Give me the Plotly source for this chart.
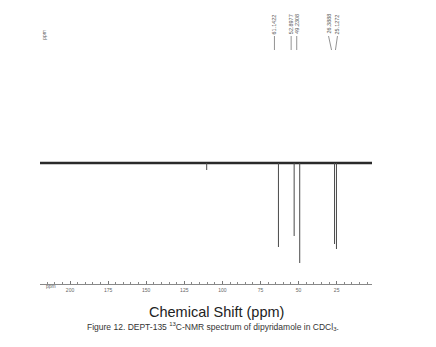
import plotly.graph_objects as go

# ---- data ----
peak_ppm = [63.2, 52.8977, 49.2308, 26.3888, 25.1272]
peak_intensity = [-84, -73, -100, -81, -86]
peak_labels = ["61.1422", "52.8977", "49.2308", "26.3888", "25.1272"]
small_ppm = [110.3]
small_intensity = [-7]
baseline_ppm = [220.0, 0.5]
tick_values = [200, 175, 150, 125, 100, 75, 50, 25]
tick_text = ["200", "175", "150", "125", "100", "75", "50", "25"]

PX_PER_PPM = 1.5236
# horizontal shift (px) of each label, and of the lower end of its leader line
label_shift = [-4, -3, -3, -6, 1]
leader_shift = [-4, -3, -3, -3, -1]

fig = go.Figure()

# baseline (noise band)
fig.add_trace(go.Scatter(x=baseline_ppm, y=[0, 0], mode="lines",
                         line=dict(color="#2a2a2a", width=2.6),
                         hoverinfo="skip", showlegend=False))

# peaks
px, py = [], []
for p, v in zip(peak_ppm + small_ppm, peak_intensity + small_intensity):
    px += [p, p, None]
    py += [0, v, None]
fig.add_trace(go.Scatter(x=px, y=py, mode="lines",
                         line=dict(color="#4a4a4a", width=1),
                         hoverinfo="skip", showlegend=False))

annotations = []
shapes = []
for p, lab, s, ls in zip(peak_ppm, peak_labels, label_shift, leader_shift):
    annotations.append(dict(x=p, y=139, xref="x", yref="y", text=lab,
                            textangle=-90, showarrow=False, xshift=s,
                            font=dict(size=5.5, color="#555",
                                      family="Liberation Sans")))
    top_x = p - s / PX_PER_PPM
    bot_x = p - ls / PX_PER_PPM
    shapes.append(dict(type="line", xref="x", yref="y",
                       x0=top_x, x1=bot_x, y0=127, y1=113,
                       line=dict(color="#777", width=0.8)))

# the "ppm" marks
annotations.append(dict(x=-0.003, y=0.902, xref="paper", yref="paper",
                        text="ppm", textangle=-90, showarrow=False,
                        font=dict(size=5, color="#666", family="Liberation Sans")))
annotations.append(dict(x=0.012, y=-0.025, xref="paper", yref="paper",
                        text="ppm", showarrow=False,
                        font=dict(size=5, color="#666", family="Liberation Sans")))

annotations.append(dict(x=0.533, y=-0.0986, xref="paper", yref="paper",
                        text="Chemical Shift (ppm)", showarrow=False,
                        yanchor="middle",
                        font=dict(size=14.5, color="#222",
                                  family="Liberation Sans")))
annotations.append(dict(x=0.521, y=-0.151, xref="paper", yref="paper",
                        text="Figure 12. DEPT-135 <sup>13</sup>C-NMR spectrum of dipyridamole in CDCl<sub>3</sub>.",
                        showarrow=False, yanchor="middle",
                        font=dict(size=8.5, color="#333",
                                  family="Liberation Sans")))

fig.update_layout(
    width=436, height=347,
    margin=dict(l=40, r=64, t=0, b=63),
    paper_bgcolor="white", plot_bgcolor="white",
    xaxis=dict(range=[219.7, 1.8], showgrid=False, zeroline=False,
               showline=True, linecolor="#888", linewidth=1,
               tickvals=tick_values, ticktext=tick_text,
               ticks="inside", ticklen=3, tickcolor="#777", tickwidth=1,
               minor=dict(dtick=5, ticks="inside", ticklen=2,
                          tickcolor="#888", tickwidth=1, showgrid=False),
               ticklabelstandoff=1,
               tickfont=dict(size=5, color="#666", family="Liberation Sans")),
    yaxis=dict(range=[-121, 163], visible=False, fixedrange=True),
    annotations=annotations,
    shapes=shapes,
    showlegend=False,
)

fig.write_html("out.html")
